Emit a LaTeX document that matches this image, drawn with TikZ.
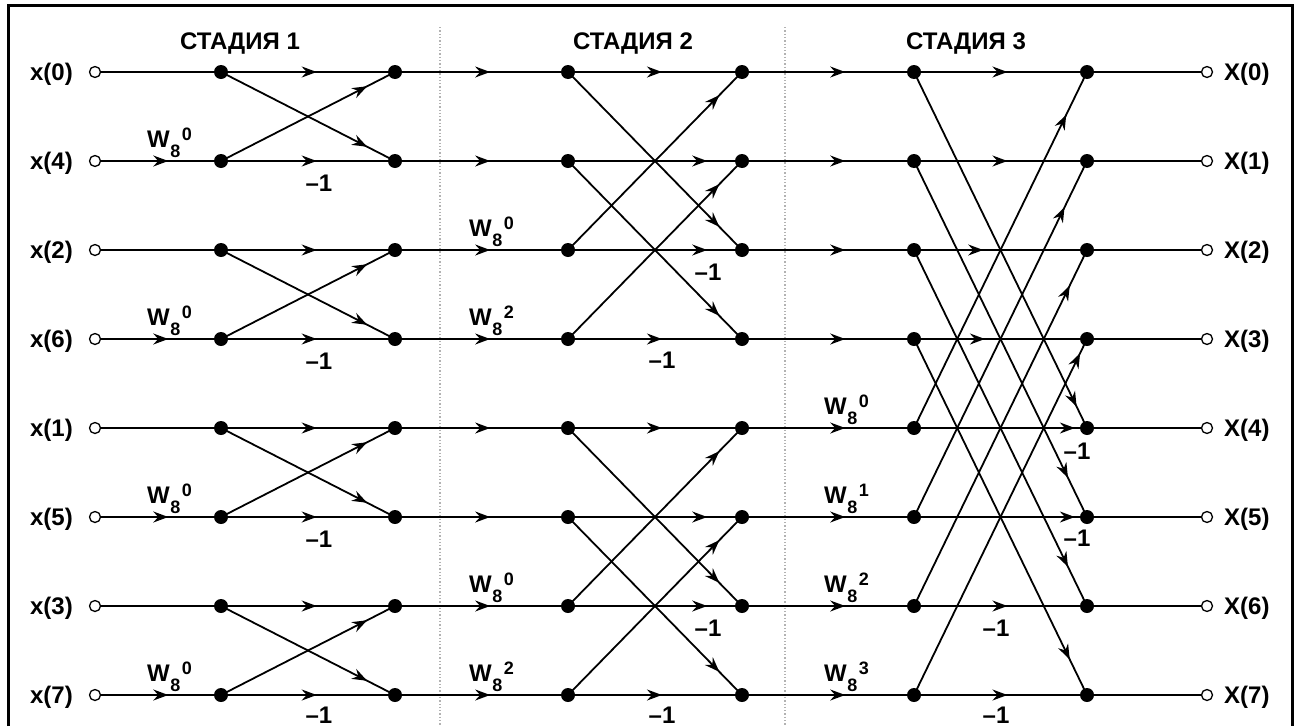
\documentclass[tikz,border=0pt]{standalone}
\usepackage{fontspec}
\setmainfont{Liberation Sans}
\usetikzlibrary{arrows.meta,decorations.markings}
\tikzset{
  wire/.style={line width=1.8pt},
  arr/.style={postaction={decorate,decoration={markings,mark=at position #1 with {\arrow{Stealth[length=15pt,width=11pt,inset=5pt]}}}}},
  dotnode/.style={circle,fill=black,inner sep=0pt,minimum size=14pt},
  port/.style={circle,draw=black,fill=white,line width=1.3pt,inner sep=0pt,minimum size=11pt},
  lbl/.style={inner sep=0pt,font=\fontsize{24}{28}\selectfont\bfseries},
  seprule/.style={gray!60,line width=1.3pt,dotted},
}
\newcommand\Wlab[1]{W\kern0.5pt\raisebox{-10pt}{\fontsize{18}{18}\selectfont 8}\kern1.5pt\raisebox{7pt}{\fontsize{18}{18}\selectfont #1}}
\begin{document}
\begin{tikzpicture}[x=1pt,y=-1pt]
\useasboundingbox (0,0) rectangle (1299,726);
% frame
\coordinate (fbl) at (8,726); \coordinate (ftl) at (8,5.5);
\coordinate (ftr) at (1292,5.5); \coordinate (fbr) at (1292,726);
\draw[line width=3pt] (fbl) -- (ftl) -- (ftr) -- (fbr);
% separators
\coordinate (sa1) at (440,27); \coordinate (sa2) at (440,726);
\coordinate (sb1) at (785,27); \coordinate (sb2) at (785,726);
\draw[seprule] (sa1) -- (sa2);
\draw[seprule] (sb1) -- (sb2);
% headers
\node[lbl,anchor=base] (h1) at (240,49) {СТАДИЯ 1};
\node[lbl,anchor=base] (h2) at (633,49) {СТАДИЯ 2};
\node[lbl,anchor=base] (h3) at (966,49) {СТАДИЯ 3};
% nodes
\foreach \k/\ix in {0/0,1/4,2/2,3/6,4/1,5/5,6/3,7/7}{
  \pgfmathsetmacro\y{72+89*\k}
  \node[lbl,anchor=base east] (xl\k) at (73,\y+8.5) {x(\ix)};
  \node[lbl,anchor=base west] (Xl\k) at (1224,\y+8.5) {X(\k)};
  \node[port] (in\k) at (95,\y) {};
  \node[port] (out\k) at (1207,\y) {};
  \node[dotnode] (aL\k) at (221,\y) {};
  \node[dotnode] (aR\k) at (395,\y) {};
  \node[dotnode] (bL\k) at (568,\y) {};
  \node[dotnode] (bR\k) at (742,\y) {};
  \node[dotnode] (cL\k) at (914,\y) {};
  \node[dotnode] (cR\k) at (1087,\y) {};
}
% horizontal wires
\foreach \k in {0,2,4,6}{ \draw[wire] (in\k) -- (aL\k.center); }
\foreach \k in {1,3,5,7}{ \draw[wire,arr=0.56] (in\k) -- (aL\k.center); }
\foreach \k in {0,...,7}{
  \draw[wire,arr=0.55] (aL\k.center) -- (aR\k.center);
  \draw[wire,arr=0.55] (aR\k.center) -- (bL\k.center);
  \draw[wire,arr=0.6] (bR\k.center) -- (cL\k.center);
  \draw[wire] (cR\k.center) -- (out\k);
}
\foreach \k/\p in {0/0.54,1/0.80,2/0.80,3/0.54,4/0.54,5/0.80,6/0.80,7/0.54}{
  \draw[wire,arr=\p] (bL\k.center) -- (bR\k.center);
}
\foreach \k/\p in {0/0.54,1/0.54,2/0.40,3/0.41,4/0.93,5/0.93,6/0.54,7/0.54}{
  \draw[wire,arr=\p] (cL\k.center) -- (cR\k.center);
}
% stage 1 butterflies
\foreach \i/\j in {0/1,2/3,4/5,6/7}{
  \draw[wire,arr=0.84] (aL\i.center) -- (aR\j.center);
  \draw[wire,arr=0.84] (aL\j.center) -- (aR\i.center);
}
% stage 2 butterflies
\foreach \i/\j in {0/2,1/3,4/6,5/7}{
  \draw[wire,arr=0.87] (bL\i.center) -- (bR\j.center);
  \draw[wire,arr=0.87] (bL\j.center) -- (bR\i.center);
}
% stage 3 butterflies
\foreach \i/\j/\p/\q in {0/4/0.94/0.88,1/5/0.89/0.87,2/6/0.89/0.90,3/7/0.90/0.96}{
  \draw[wire,arr=\p] (cL\i.center) -- (cR\j.center);
  \draw[wire,arr=\q] (cL\j.center) -- (cR\i.center);
}
% twiddle labels
\foreach \k in {1,3,5,7}{
  \pgfmathsetmacro\y{72+89*\k}
  \node[lbl,anchor=base west] (wa\k) at (147,\y-14) {\Wlab{0}};
}
\foreach \k/\e in {2/0,3/2,6/0,7/2}{
  \pgfmathsetmacro\y{72+89*\k}
  \node[lbl,anchor=base west] (wb\k) at (469,\y-14) {\Wlab{\e}};
}
\foreach \k/\e in {4/0,5/1,6/2,7/3}{
  \pgfmathsetmacro\y{72+89*\k}
  \node[lbl,anchor=base west] (wc\k) at (824,\y-14) {\Wlab{\e}};
}
% -1 labels
\foreach \n/\xx/\yy in {a1/319/183,a3/319/361,a5/319/539,a7/319/715,
  b2/708/272,b3/662/360,b6/708/628,b7/662/715,
  c4/1077/451,c5/1077/538,c6/996/628,c7/996/715}{
  \node[lbl] (m\n) at (\xx,\yy) {–1};
}
\end{tikzpicture}
\end{document}
